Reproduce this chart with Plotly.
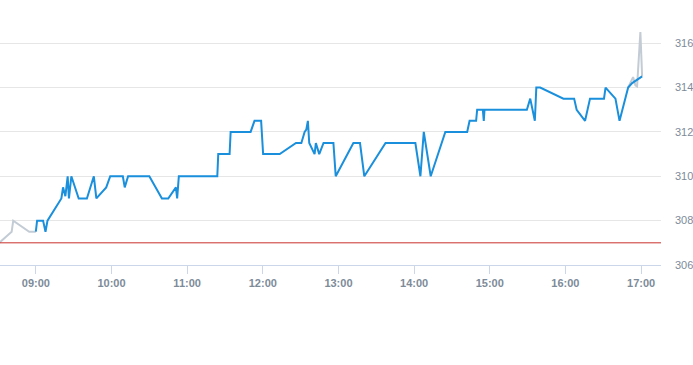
import plotly.graph_objects as go

DAY = "2024-01-02 "

pre_times = ["08:30:00", "08:40:50", "08:42:05", "08:54:45", "09:00:00"]
pre_prices = [306.95, 307.5, 308.0, 307.5, 307.5]

main_times = [
    "09:00:00", "09:01:00", "09:05:45", "09:07:40", "09:09:15", "09:20:15", "09:21:35",
    "09:23:25", "09:25:15", "09:26:15", "09:28:10", "09:34:00", "09:40:30", "09:46:00",
    "09:48:00", "09:55:50", "09:59:00", "10:09:00", "10:10:30", "10:13:10", "10:30:00",
    "10:40:00", "10:45:00", "10:51:05", "10:52:05", "10:53:25", "11:23:55", "11:24:40",
    "11:33:40", "11:34:30", "11:50:20", "11:53:25", "11:58:40", "12:00:15", "12:13:25",
    "12:26:20", "12:30:35", "12:33:10", "12:34:30", "12:35:45", "12:36:50", "12:38:55",
    "12:41:05", "12:42:05", "12:44:45", "12:48:10", "12:56:00", "12:57:50", "13:11:50",
    "13:17:05", "13:20:30", "13:37:20", "14:01:00", "14:05:00", "14:07:40", "14:13:10",
    "14:24:45", "14:42:05", "14:44:00", "14:49:10", "14:50:00", "14:54:30", "14:55:15",
    "14:55:50", "15:29:25", "15:32:05", "15:35:45", "15:36:55", "15:40:00", "15:58:25",
    "16:06:55", "16:08:55", "16:15:35", "16:19:30", "16:30:35", "16:31:50", "16:39:40",
    "16:42:55", "16:49:45", "16:52:55", "17:00:50",
]
main_prices = [
    307.5, 308.0, 308.0, 307.5, 308.0, 309.0, 309.5,
    309.1, 310.0, 309.0, 310.0, 309.0, 309.0, 310.0,
    309.0, 309.5, 310.0, 310.0, 309.5, 310.0, 310.0,
    309.0, 309.0, 309.5, 309.0, 310.0, 310.0, 311.0,
    311.0, 312.0, 312.0, 312.5, 312.5, 311.0, 311.0,
    311.5, 311.5, 312.0, 312.1, 312.5, 311.5, 311.25,
    311.0, 311.5, 311.0, 311.5, 311.5, 310.0, 311.5,
    311.5, 310.0, 311.5, 311.5, 310.0, 312.0, 310.0,
    312.0, 312.0, 312.5, 312.5, 313.0, 313.0, 312.5,
    313.0, 313.0, 313.5, 312.5, 314.0, 314.0, 313.5,
    313.5, 313.0, 312.5, 313.5, 313.5, 314.0, 313.5,
    312.5, 314.0, 314.2, 314.5,
]

post_times = ["16:49:45", "16:53:40", "16:55:30", "16:56:50", "16:59:27", "17:00:15", "17:00:50"]
post_prices = [314.0, 314.47, 314.1, 314.05, 316.5, 314.5, 314.5]

prev_close = 307.0
y_ticks = [306, 308, 310, 312, 314, 316]
x_range = ["08:31:35", "17:15:48"]

BLUE = "#1a8fdc"
GRAY = "#c3ccd5"
LABEL = "#7d8b99"

fig = go.Figure()
fig.add_trace(go.Scatter(x=[DAY + t for t in pre_times], y=pre_prices, mode="lines",
                         line=dict(color=GRAY, width=2), hoverinfo="skip"))
fig.add_trace(go.Scatter(x=[DAY + t for t in post_times], y=post_prices, mode="lines",
                         line=dict(color=GRAY, width=2), hoverinfo="skip"))
fig.add_trace(go.Scatter(x=[DAY + t for t in main_times], y=main_prices, mode="lines",
                         line=dict(color=BLUE, width=2)))
fig.add_hline(y=prev_close, line=dict(color="#c9302c", width=1))

fig.update_layout(
    width=693, height=365,
    margin=dict(l=0, r=29, t=21, b=100),
    paper_bgcolor="white", plot_bgcolor="white",
    showlegend=False,
    font=dict(family="Liberation Sans, Arial, sans-serif", size=11, color=LABEL),
)
fig.update_xaxes(
    type="date",
    range=[DAY + x_range[0], DAY + x_range[1]],
    tickformat="%H:%M", dtick=3600000, tick0=DAY + "09:00:00",
    showgrid=False, zeroline=False,
    showline=True, linecolor="#ccd6eb", linewidth=1,
    ticks="outside", ticklen=8, tickcolor="#ccd6eb",
    tickfont=dict(size=11, color=LABEL, weight="bold"),
)
fig.update_yaxes(
    side="right", range=[306, 317],
    tickvals=y_ticks, ticktext=[str(v) for v in y_ticks],
    showgrid=True, gridcolor="#e6e6e6", gridwidth=1, zeroline=False,
    showline=False, ticks="", ticklabelstandoff=13,
    tickfont=dict(size=11, color=LABEL),
)

fig.write_html("out.html")
